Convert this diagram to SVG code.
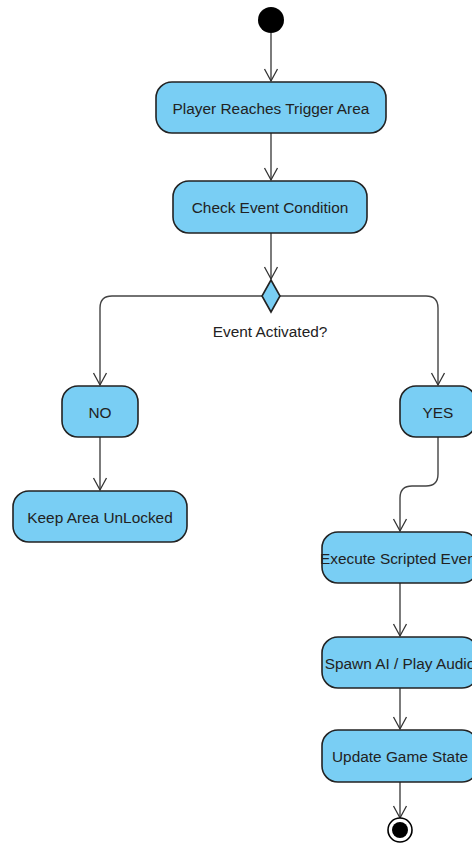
<svg xmlns="http://www.w3.org/2000/svg" width="472" height="843" viewBox="0 0 472 843">
<defs>
<marker id="arr" markerWidth="16" markerHeight="16" refX="13" refY="8" orient="auto" markerUnits="userSpaceOnUse">
<path d="M1,1.5 L13,8 L1,14.5" fill="none" stroke="#333" stroke-width="1.3"/>
</marker>
</defs>
<style>
.node rect{fill:#79CEF4;stroke:#222;stroke-width:1.6}
.node text{font-family:"Liberation Sans",Arial,sans-serif;font-size:15.4px;fill:#222;text-anchor:middle;dominant-baseline:central}
.edge{fill:none;stroke:#444;stroke-width:1.4;marker-end:url(#arr)}
.lbl{font-family:"Liberation Sans",Arial,sans-serif;font-size:15.4px;fill:#222;text-anchor:middle}
</style>
<rect width="472" height="843" fill="#fff"/>
<g id="connectors">
<path class="edge" d="M271,33 V81"/>
<path class="edge" d="M271,133 V180"/>
<path class="edge" d="M271,233 V279"/>
<path class="edge" d="M262,296 H112 Q100,296 100,308 V385"/>
<path class="edge" d="M280,296 H426 Q438,296 438,308 V385"/>
<path class="edge" d="M100,437 V490"/>
<path class="edge" d="M438,437 V474 Q438,486 426,486 H412 Q400,486 400,498 V531"/>
<path class="edge" d="M400,583 V636"/>
<path class="edge" d="M400,688 V729"/>
<path class="edge" d="M400,782 V818"/>
</g>
<g id="start"><circle cx="271" cy="20" r="13" fill="#000"/></g>
<g id="n1" class="node"><rect x="156" y="82" width="230" height="51" rx="16"/><text x="271" y="108">Player Reaches Trigger Area</text></g>
<g id="n2" class="node"><rect x="173" y="181" width="194" height="52" rx="16"/><text x="270" y="207">Check Event Condition</text></g>
<g id="decision"><polygon points="271,280 280,296 271,312 262,296" fill="#79CEF4" stroke="#222" stroke-width="1.6"/><text class="lbl" x="270" y="337">Event Activated?</text></g>
<g id="no" class="node"><rect x="62" y="386" width="76" height="51" rx="16"/><text x="100" y="412">NO</text></g>
<g id="keep" class="node"><rect x="13" y="491" width="174" height="51" rx="16"/><text x="100" y="517">Keep Area UnLocked</text></g>
<g id="yes" class="node"><rect x="400" y="386" width="76" height="51" rx="16"/><text x="438" y="412">YES</text></g>
<g id="exec" class="node"><rect x="322" y="532" width="156" height="51" rx="16"/><text x="400" y="558">Execute Scripted Event</text></g>
<g id="spawn" class="node"><rect x="322" y="637" width="156" height="51" rx="16"/><text x="400" y="663">Spawn AI / Play Audio</text></g>
<g id="update" class="node"><rect x="322" y="730" width="156" height="52" rx="16"/><text x="400" y="756">Update Game State</text></g>
<g id="end"><circle cx="400" cy="830" r="12" fill="#fff" stroke="#000" stroke-width="1.6"/><circle cx="400" cy="830" r="8" fill="#000"/></g>
</svg>
